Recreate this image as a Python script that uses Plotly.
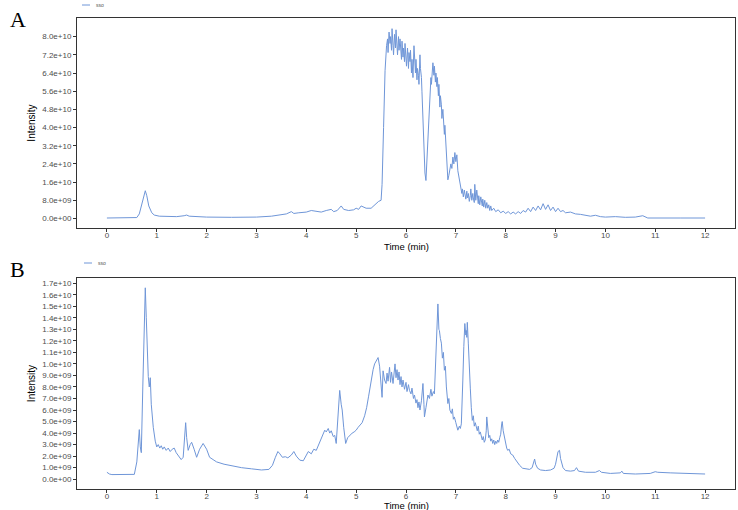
import plotly.graph_objects as go

# ---------------- data (time in min, intensity) ----------------
series_name = "sso"

# Panel A: (time, intensity in 1e10)
a_points = [
    (0.00, 0.02), (0.30, 0.02), (0.60, 0.04), (0.65, 0.20), (0.70, 0.60), (0.74, 1.00), (0.77, 1.22),
    (0.80, 1.00), (0.84, 0.55), (0.90, 0.25), (0.95, 0.15), (1.05, 0.10), (1.20, 0.08), (1.40, 0.08),
    (1.55, 0.12), (1.60, 0.15), (1.65, 0.10), (1.80, 0.08), (2.00, 0.06), (2.50, 0.05), (3.00, 0.06),
    (3.30, 0.10), (3.50, 0.15), (3.60, 0.20), (3.70, 0.30), (3.75, 0.22), (3.85, 0.25), (4.00, 0.28),
    (4.10, 0.35), (4.20, 0.30), (4.30, 0.28), (4.40, 0.35), (4.50, 0.40), (4.55, 0.30), (4.62, 0.35),
    (4.70, 0.55), (4.75, 0.40), (4.85, 0.35), (4.95, 0.38), (5.00, 0.45), (5.05, 0.40), (5.10, 0.55),
    (5.20, 0.45), (5.30, 0.45), (5.38, 0.60), (5.45, 0.75), (5.50, 0.80), (5.52, 1.50), (5.55, 4.00),
    (5.58, 6.50), (5.61, 7.60), (5.63, 7.90), (5.64, 7.30), (5.66, 8.20), (5.68, 7.70), (5.69, 8.00),
    (5.71, 7.40), (5.72, 8.35), (5.74, 7.60), (5.75, 7.20), (5.77, 8.10), (5.79, 7.50), (5.80, 8.30),
    (5.82, 7.70), (5.83, 7.20), (5.85, 8.00), (5.86, 7.40), (5.88, 7.90), (5.89, 7.30), (5.91, 7.00),
    (5.92, 7.80), (5.94, 7.10), (5.95, 7.50), (5.97, 6.90), (5.98, 7.70), (6.00, 7.20), (6.01, 6.70),
    (6.03, 7.50), (6.05, 6.60), (6.06, 7.30), (6.08, 6.90), (6.09, 7.40), (6.11, 6.40), (6.12, 7.00),
    (6.14, 6.20), (6.16, 7.60), (6.17, 6.90), (6.19, 6.40), (6.20, 7.00), (6.22, 6.10), (6.23, 6.60),
    (6.25, 6.30), (6.26, 5.90), (6.28, 7.20), (6.29, 6.60), (6.31, 6.20), (6.32, 5.60), (6.34, 4.50),
    (6.36, 3.00), (6.38, 2.00), (6.40, 1.67), (6.42, 2.60), (6.44, 3.80), (6.46, 5.00), (6.48, 5.80),
    (6.50, 6.20), (6.51, 5.90), (6.53, 6.60), (6.54, 6.85), (6.56, 6.30), (6.57, 6.70), (6.59, 6.00),
    (6.60, 6.40), (6.62, 5.80), (6.63, 6.20), (6.65, 5.40), (6.66, 5.90), (6.68, 4.90), (6.69, 5.40),
    (6.71, 5.00), (6.72, 4.40), (6.74, 4.80), (6.75, 4.10), (6.77, 3.70), (6.78, 4.10), (6.80, 3.40),
    (6.82, 2.60), (6.84, 1.70), (6.86, 1.90), (6.88, 2.10), (6.90, 2.40), (6.92, 2.20), (6.94, 2.70),
    (6.96, 2.40), (6.98, 2.90), (7.00, 2.50), (7.02, 2.80), (7.04, 2.10), (7.06, 1.80), (7.08, 1.50),
    (7.10, 1.30), (7.12, 1.10), (7.13, 1.30), (7.15, 0.95), (7.17, 1.25), (7.18, 1.05), (7.20, 0.85),
    (7.22, 1.20), (7.23, 0.90), (7.25, 1.10), (7.27, 0.75), (7.29, 1.00), (7.30, 1.30), (7.32, 0.80),
    (7.34, 1.10), (7.35, 0.90), (7.37, 0.70), (7.38, 1.50), (7.40, 0.80), (7.42, 1.25), (7.43, 0.95),
    (7.45, 0.65), (7.46, 1.00), (7.48, 0.60), (7.50, 0.95), (7.51, 0.75), (7.53, 0.55), (7.54, 0.85),
    (7.56, 0.50), (7.58, 0.80), (7.60, 0.45), (7.62, 0.70), (7.64, 0.45), (7.66, 0.60), (7.68, 0.35),
    (7.70, 0.55), (7.72, 0.35), (7.76, 0.45), (7.80, 0.30), (7.85, 0.38), (7.90, 0.25), (7.95, 0.32),
    (8.00, 0.22), (8.05, 0.30), (8.10, 0.20), (8.15, 0.28), (8.20, 0.20), (8.25, 0.30), (8.30, 0.22),
    (8.35, 0.35), (8.40, 0.28), (8.45, 0.45), (8.50, 0.30), (8.55, 0.50), (8.60, 0.35), (8.65, 0.55),
    (8.70, 0.38), (8.75, 0.65), (8.80, 0.40), (8.85, 0.60), (8.90, 0.35), (8.95, 0.50), (9.00, 0.30),
    (9.05, 0.45), (9.10, 0.30), (9.15, 0.35), (9.20, 0.25), (9.30, 0.28), (9.40, 0.20), (9.50, 0.18),
    (9.60, 0.15), (9.70, 0.10), (9.80, 0.14), (9.90, 0.08), (10.00, 0.06), (10.20, 0.08), (10.40, 0.05),
    (10.60, 0.06), (10.75, 0.12), (10.80, 0.06), (10.85, 0.02), (11.50, 0.02), (12.00, 0.02),
]

# Panel B: (time, intensity in 1e9)
b_points = [
    (0.00, 0.60), (0.05, 0.45), (0.10, 0.40), (0.30, 0.40), (0.55, 0.42), (0.60, 1.50), (0.63, 3.80),
    (0.65, 4.30), (0.67, 2.80), (0.69, 2.30), (0.72, 8.00), (0.75, 14.50), (0.77, 16.60), (0.79, 14.00),
    (0.81, 10.50), (0.83, 8.90), (0.85, 8.00), (0.87, 8.80), (0.89, 6.50), (0.93, 4.50), (0.97, 3.30),
    (1.00, 2.80), (1.03, 3.00), (1.06, 2.70), (1.09, 2.90), (1.12, 2.60), (1.15, 2.80), (1.19, 2.50),
    (1.23, 2.70), (1.27, 2.40), (1.31, 2.60), (1.35, 2.70), (1.39, 2.30), (1.44, 2.00), (1.49, 1.70),
    (1.53, 1.90), (1.56, 3.50), (1.58, 4.90), (1.60, 3.60), (1.63, 2.50), (1.67, 3.00), (1.70, 3.20),
    (1.75, 2.60), (1.80, 1.90), (1.86, 2.60), (1.93, 3.10), (2.00, 2.60), (2.06, 1.90), (2.13, 1.70),
    (2.20, 1.50), (2.35, 1.30), (2.50, 1.15), (2.70, 1.00), (2.90, 0.90), (3.10, 0.80), (3.25, 0.85),
    (3.32, 1.20), (3.38, 1.90), (3.43, 2.40), (3.47, 2.20), (3.52, 1.90), (3.58, 1.95), (3.63, 1.85),
    (3.70, 2.10), (3.75, 2.40), (3.80, 2.00), (3.87, 1.65), (3.94, 1.60), (4.00, 2.10), (4.04, 2.40),
    (4.10, 2.20), (4.15, 2.60), (4.20, 2.50), (4.25, 3.00), (4.30, 3.60), (4.34, 4.00), (4.37, 4.25),
    (4.40, 4.10), (4.44, 4.40), (4.47, 4.00), (4.50, 4.20), (4.54, 3.70), (4.57, 3.80), (4.60, 3.10),
    (4.63, 5.00), (4.67, 7.70), (4.70, 6.50), (4.72, 6.00), (4.75, 4.50), (4.79, 3.10), (4.83, 3.60),
    (4.87, 3.80), (4.92, 4.00), (4.96, 4.10), (5.00, 4.25), (5.04, 4.50), (5.08, 4.70), (5.12, 4.90),
    (5.17, 5.50), (5.21, 6.20), (5.25, 7.20), (5.28, 8.00), (5.31, 8.90), (5.34, 9.50), (5.37, 10.00),
    (5.40, 10.30), (5.44, 10.55), (5.47, 9.80), (5.50, 8.40), (5.52, 7.10), (5.54, 9.40), (5.57, 8.60),
    (5.60, 8.30), (5.62, 9.20), (5.64, 8.50), (5.67, 9.70), (5.69, 8.40), (5.71, 9.30), (5.74, 8.30),
    (5.76, 9.00), (5.78, 10.00), (5.80, 8.80), (5.82, 9.50), (5.84, 8.60), (5.86, 9.30), (5.88, 8.20),
    (5.90, 8.90), (5.92, 8.00), (5.94, 8.60), (5.97, 7.80), (6.00, 8.40), (6.02, 7.60), (6.05, 8.20),
    (6.07, 7.70), (6.10, 7.40), (6.12, 7.90), (6.15, 7.00), (6.17, 7.30), (6.20, 6.60), (6.22, 6.90),
    (6.24, 6.20), (6.26, 6.70), (6.28, 6.00), (6.31, 6.80), (6.33, 7.50), (6.34, 8.30), (6.36, 6.50),
    (6.37, 5.40), (6.40, 6.20), (6.42, 6.80), (6.44, 7.30), (6.47, 7.00), (6.50, 7.80), (6.52, 7.20),
    (6.55, 7.60), (6.57, 7.40), (6.59, 9.50), (6.61, 12.30), (6.63, 13.50), (6.64, 15.20), (6.66, 13.00),
    (6.67, 12.90), (6.69, 12.20), (6.71, 11.80), (6.73, 10.50), (6.75, 11.00), (6.77, 9.45), (6.79, 9.80),
    (6.81, 8.00), (6.84, 6.56), (6.86, 7.00), (6.88, 6.00), (6.91, 5.70), (6.93, 6.10), (6.95, 5.20),
    (6.97, 5.40), (7.00, 4.90), (7.02, 4.60), (7.04, 4.25), (7.07, 4.60), (7.09, 4.40), (7.11, 4.80),
    (7.13, 6.50), (7.14, 8.60), (7.16, 11.50), (7.18, 13.50), (7.20, 12.50), (7.21, 12.90), (7.22, 12.30),
    (7.23, 13.60), (7.25, 11.80), (7.26, 10.30), (7.28, 8.50), (7.29, 7.90), (7.31, 6.20), (7.33, 5.10),
    (7.35, 5.50), (7.37, 4.60), (7.39, 4.90), (7.41, 4.50), (7.43, 4.20), (7.45, 4.60), (7.47, 3.90),
    (7.49, 4.10), (7.51, 3.67), (7.53, 3.40), (7.55, 3.70), (7.57, 3.20), (7.59, 3.40), (7.61, 4.20),
    (7.62, 5.40), (7.64, 4.30), (7.66, 3.60), (7.68, 3.80), (7.70, 3.30), (7.72, 3.50), (7.74, 3.10),
    (7.76, 3.40), (7.78, 3.00), (7.80, 3.30), (7.82, 3.10), (7.84, 3.40), (7.86, 3.20), (7.88, 3.60),
    (7.90, 3.90), (7.92, 4.80), (7.93, 5.00), (7.95, 4.20), (7.97, 3.70), (7.98, 3.40), (8.00, 2.90),
    (8.02, 2.70), (8.04, 2.50), (8.07, 2.60), (8.10, 2.20), (8.14, 2.10), (8.18, 1.80), (8.21, 1.60),
    (8.24, 1.40), (8.28, 1.20), (8.34, 0.95), (8.40, 0.90), (8.48, 0.85), (8.53, 1.00), (8.56, 1.40),
    (8.58, 1.75), (8.60, 1.30), (8.64, 0.95), (8.70, 0.80), (8.80, 0.75), (8.90, 0.80), (8.97, 0.95),
    (9.00, 1.30), (9.03, 2.00), (9.05, 2.40), (9.08, 2.50), (9.10, 1.80), (9.15, 1.00), (9.20, 0.75),
    (9.30, 0.70), (9.38, 0.75), (9.42, 1.00), (9.46, 0.70), (9.60, 0.60), (9.80, 0.60), (9.88, 0.75),
    (9.92, 0.60), (10.10, 0.50), (10.30, 0.55), (10.33, 0.70), (10.36, 0.50), (10.60, 0.45), (10.90, 0.50),
    (11.00, 0.65), (11.05, 0.60), (11.30, 0.55), (11.60, 0.50), (12.00, 0.45),
]

a_time = [p[0] for p in a_points]
a_intensity = [p[1] * 1e10 for p in a_points]
b_time = [p[0] for p in b_points]
b_intensity = [p[1] * 1e9 for p in b_points]

x_ticks = [0, 1, 2, 3, 4, 5, 6, 7, 8, 9, 10, 11, 12]
a_ytick_vals = [0, 8e9, 1.6e10, 2.4e10, 3.2e10, 4.0e10, 4.8e10, 5.6e10, 6.4e10, 7.2e10, 8.0e10]
a_ytick_text = ["0.0e+00", "8.0e+09", "1.6e+10", "2.4e+10", "3.2e+10", "4.0e+10",
                "4.8e+10", "5.6e+10", "6.4e+10", "7.2e+10", "8.0e+10"]
b_ytick_vals = [i * 1e9 for i in range(18)]
b_ytick_text = ["0.0e+00", "1.0e+09", "2.0e+09", "3.0e+09", "4.0e+09", "5.0e+09", "6.0e+09",
                "7.0e+09", "8.0e+09", "9.0e+09", "1.0e+10", "1.1e+10", "1.2e+10", "1.3e+10",
                "1.4e+10", "1.5e+10", "1.6e+10", "1.7e+10"]

# ---------------- figure ----------------
W, H = 738, 510
line_color = "#6f96d8"
axis_color = "#333333"
sans = "Liberation Sans, Arial, sans-serif"
tick_font = dict(family=sans, size=8, color="#4d4d4d")
title_font = dict(family=sans, size=10, color="#000000")
xtitle_font = dict(family=sans, size=9.5, color="#000000")

def fy(px):
    return 1 - px / H

def fx(px):
    return px / W

fig = go.Figure()
fig.add_trace(go.Scatter(x=a_time, y=a_intensity, mode="lines", name=series_name,
                         line=dict(color=line_color, width=1), xaxis="x", yaxis="y",
                         showlegend=False))
fig.add_trace(go.Scatter(x=b_time, y=b_intensity, mode="lines", name=series_name,
                         line=dict(color=line_color, width=1), xaxis="x2", yaxis="y2",
                         showlegend=False))

x_dom = [fx(77), fx(735)]
common_x = dict(range=[-0.6, 12.6], tickvals=x_ticks, ticks="outside", ticklen=3, tickwidth=1,
                tickcolor=axis_color, showline=True, linecolor=axis_color, linewidth=1, mirror=True,
                showgrid=False, zeroline=False, tickfont=tick_font, ticklabelstandoff=-4)
common_y = dict(ticks="outside", ticklen=3, tickwidth=1, tickcolor=axis_color, showline=True,
                linecolor=axis_color, linewidth=1, mirror=True, showgrid=False, zeroline=False,
                tickfont=tick_font, title=dict(text="Intensity", font=title_font, standoff=4))

serif = dict(family="Liberation Serif, Times New Roman, serif", size=22, color="black")
legend_font = dict(family=sans, size=5, color="#555555")

annotations = [
    dict(text="A", x=fx(8), y=fy(5), xref="paper", yref="paper", xanchor="left", yanchor="top",
         showarrow=False, font=serif),
    dict(text="B", x=fx(8), y=fy(255), xref="paper", yref="paper", xanchor="left", yanchor="top",
         showarrow=False, font=serif),
    dict(text="Time (min)", x=(x_dom[0] + x_dom[1]) / 2, y=fy(246), xref="paper", yref="paper",
         xanchor="center", yanchor="middle", showarrow=False, font=xtitle_font),
    dict(text="Time (min)", x=(x_dom[0] + x_dom[1]) / 2, y=fy(505.5), xref="paper", yref="paper",
         xanchor="center", yanchor="middle", showarrow=False, font=xtitle_font),
    dict(text=series_name, x=fx(94), y=fy(5), xref="paper", yref="paper", xanchor="left",
         yanchor="middle", showarrow=False, font=legend_font),
    dict(text=series_name, x=fx(96), y=fy(263), xref="paper", yref="paper", xanchor="left",
         yanchor="middle", showarrow=False, font=legend_font),
]
shapes = [
    dict(type="line", xref="paper", yref="paper", x0=fx(82), x1=fx(90), y0=fy(5), y1=fy(5),
         line=dict(color=line_color, width=1)),
    dict(type="line", xref="paper", yref="paper", x0=fx(84), x1=fx(92), y0=fy(263), y1=fy(263),
         line=dict(color=line_color, width=1)),
]

fig.update_layout(
    width=W, height=H, margin=dict(l=0, r=0, t=0, b=0),
    paper_bgcolor="white", plot_bgcolor="white",
    xaxis=dict(domain=x_dom, anchor="y", **common_x),
    yaxis=dict(domain=[fy(228), fy(18)], anchor="x", range=[-0.42e10, 8.82e10],
               tickvals=a_ytick_vals, ticktext=a_ytick_text, **common_y),
    xaxis2=dict(domain=x_dom, anchor="y2", **common_x),
    yaxis2=dict(domain=[fy(489), fy(278)], anchor="x2", range=[-0.85e9, 17.45e9],
                tickvals=b_ytick_vals, ticktext=b_ytick_text, **common_y),
    annotations=annotations,
    shapes=shapes,
)

fig.write_html("out.html")
